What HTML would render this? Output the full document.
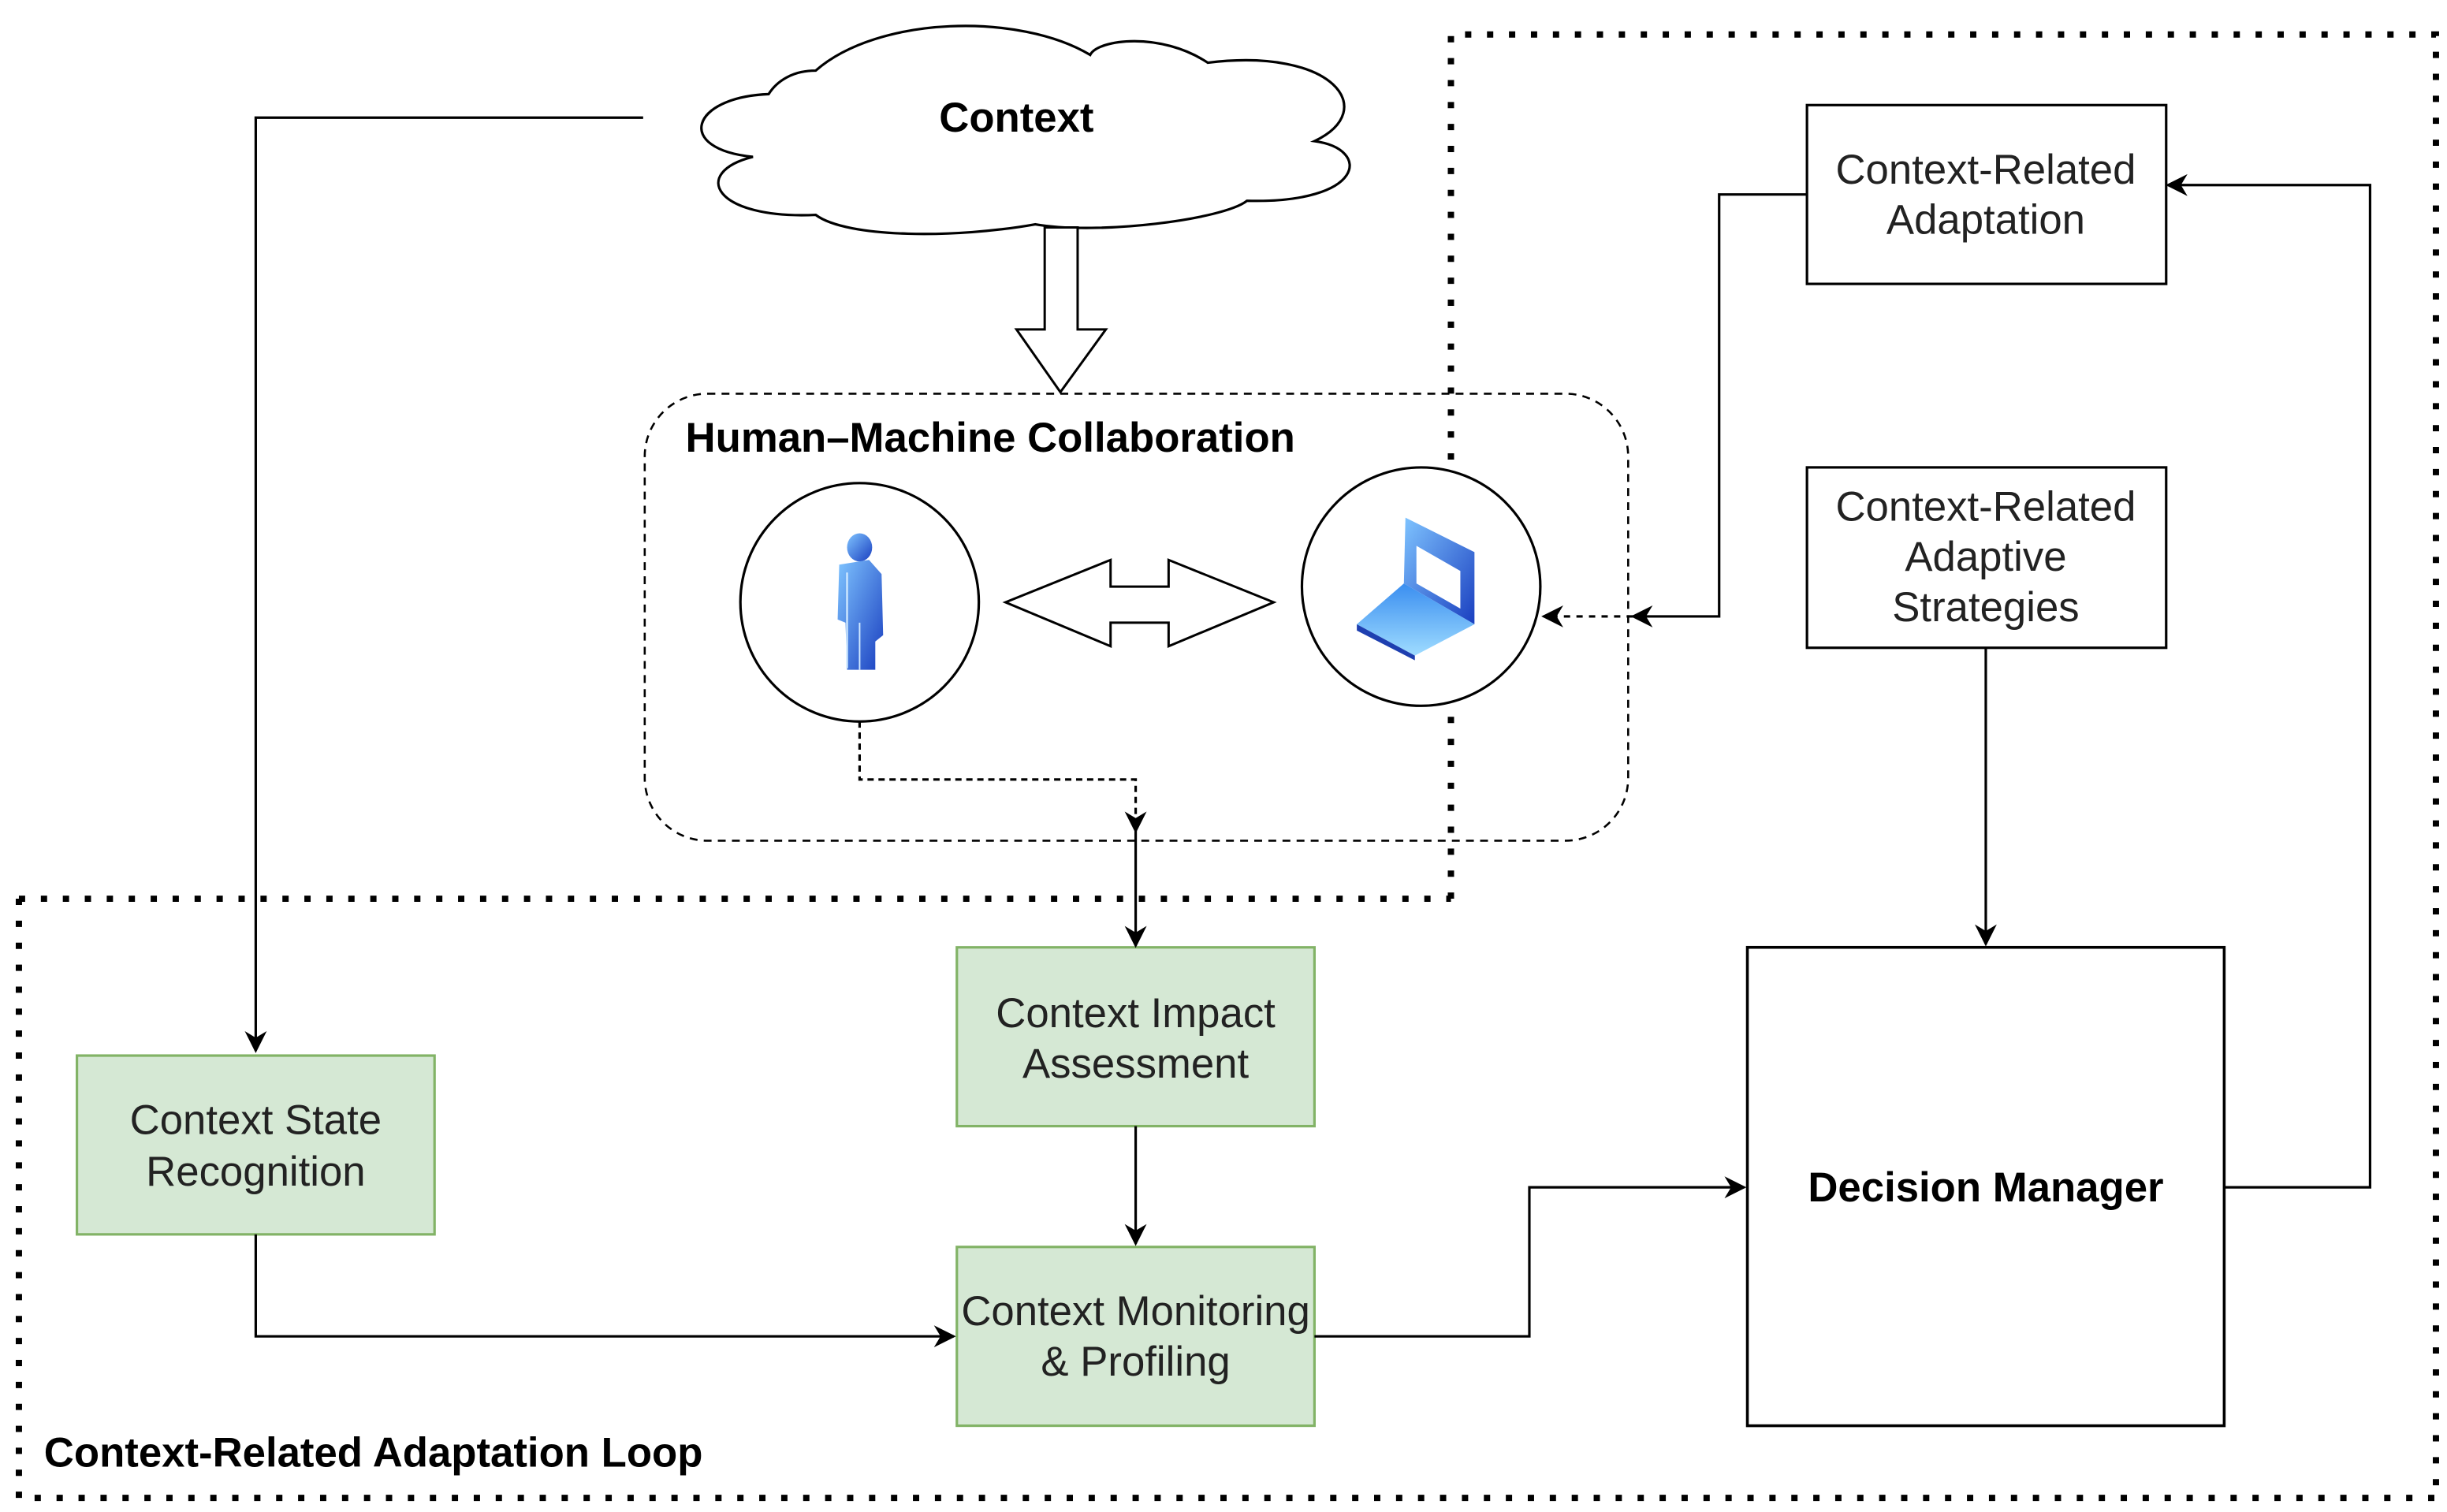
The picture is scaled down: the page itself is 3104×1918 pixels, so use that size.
<!DOCTYPE html>
<html><head><meta charset="utf-8"><style>
html,body{margin:0;padding:0;background:#fff;}
svg{display:block;}
text{font-family:"Liberation Sans",Arial,sans-serif;}
</style></head><body>
<svg width="3104" height="1918" viewBox="0 0 1560 964" xmlns="http://www.w3.org/2000/svg">
<defs>
<marker id="ah2" viewBox="0 0 10 10" refX="9" refY="5" markerWidth="14" markerHeight="14" orient="auto" markerUnits="userSpaceOnUse">
<path d="M0,0 L10,5 L0,10 L3,5 Z" fill="#000"/>
</marker>
<linearGradient id="bl" x1="0" y1="0" x2="1" y2="1">
<stop offset="0" stop-color="#7fc4ff"/><stop offset="1" stop-color="#1a3fc0"/>
</linearGradient>
<linearGradient id="bl2" x1="0" y1="0" x2="0" y2="1">
<stop offset="0" stop-color="#3a8ef0"/><stop offset="1" stop-color="#9fdcff"/>
</linearGradient>
</defs>

<g fill="none" stroke="#000" stroke-width="4" stroke-dasharray="4 10">
<path d="M925,573 L925,22 L1553,22 L1553,955"/>
<path d="M12,573 L925,573"/>
<path d="M12,573 L12,955 L1553,955"/>
</g>

<path d="M490,60 C440,62 430,95 480,100 C440,110 455,140 520,137 C540,152 610,152 660,143 C700,150 780,140 795,128 C870,130 875,95 838,90 C880,70 850,30 770,40 C740,20 700,25 695,35 C650,8 560,10 520,45 C505,45 495,52 490,60 Z" fill="#fff" stroke="#000" stroke-width="1.6"/>
<text x="648" y="84" font-size="26.5" font-weight="bold" text-anchor="middle">Context</text>

<path d="M666,145 L666,210 L648,210 L676,250 L705,210 L687,210 L687,145 Z" fill="#fff" stroke="#000" stroke-width="1.5"/>

<rect x="411" y="251" width="627" height="285" rx="40" fill="none" stroke="#000" stroke-width="1.3" stroke-dasharray="5 4"/>
<text x="437" y="288" font-size="26.5" font-weight="bold">Human–Machine Collaboration</text>

<circle cx="548" cy="384" r="76" fill="#fff" stroke="#000" stroke-width="1.6"/>
<circle cx="906" cy="374" r="76" fill="#fff" stroke="#000" stroke-width="1.6"/>

<g>
<ellipse cx="548" cy="349" rx="8" ry="9" fill="url(#bl)"/>
<path d="M535,360 L554,357 L562,366 L563,405 L558,409 L558,427 L540,427 L539,397 L534,395 Z" fill="url(#bl)"/>
<path d="M540,365 L540,426" stroke="#cfe8ff" stroke-width="1.2"/>
<path d="M548,397 L548,427" stroke="#cfe8ff" stroke-width="1"/>
</g>
<g>
<path d="M896,330 L940,352 L940,398 L895,372 Z" fill="url(#bl)"/>
<path d="M903,348 L931,364 L931,388 L903,372 Z" fill="#fff"/>
<path d="M895,372 L940,398 L902,418 L865,398 Z" fill="url(#bl2)"/>
<path d="M865,398 L902,418 L902,421 L865,402 Z" fill="#1e3fb0"/>
</g>

<path d="M641,384 L708,357 L708,374 L745,374 L745,357 L812,384 L745,412 L745,397 L708,397 L708,412 Z" fill="#fff" stroke="#000" stroke-width="1.5"/>

<rect x="1152" y="67" width="229" height="114" fill="#fff" stroke="#000" stroke-width="1.6"/>
<text font-size="26.5" text-anchor="middle" fill="#222"><tspan x="1266" y="117">Context-Related</tspan><tspan x="1266" y="149">Adaptation</tspan></text>
<rect x="1152" y="298" width="229" height="115" fill="#fff" stroke="#000" stroke-width="1.6"/>
<text font-size="26.5" text-anchor="middle" fill="#222"><tspan x="1266" y="332">Context-Related</tspan><tspan x="1266" y="364">Adaptive</tspan><tspan x="1266" y="396">Strategies</tspan></text>

<rect x="1114" y="604" width="304" height="305" fill="#fff" stroke="#000" stroke-width="1.8"/>
<text x="1266" y="766" font-size="26.5" font-weight="bold" text-anchor="middle">Decision Manager</text>

<g fill="#d5e8d4" stroke="#82b366" stroke-width="1.6">
<rect x="610" y="604" width="228" height="114"/>
<rect x="610" y="795" width="228" height="114"/>
<rect x="49" y="673" width="228" height="114"/>
</g>
<g font-size="26.5" text-anchor="middle" fill="#222">
<text><tspan x="724" y="655">Context Impact</tspan><tspan x="724" y="687">Assessment</tspan></text>
<text><tspan x="724" y="845">Context Monitoring</tspan><tspan x="724" y="877">&amp; Profiling</tspan></text>
<text><tspan x="163" y="723">Context State</tspan><tspan x="163" y="756">Recognition</tspan></text>
</g>
<text x="28" y="935" font-size="26.5" font-weight="bold">Context-Related Adaptation Loop</text>

<g fill="none" stroke="#000" stroke-width="1.6">
<path d="M410,75 L163,75 L163,670" marker-end="url(#ah2)"/>
<path d="M548,460 L548,497 L724,497 L724,530" stroke-dasharray="4 3" marker-end="url(#ah2)"/>
<path d="M724,530 L724,603" marker-end="url(#ah2)"/>
<path d="M724,718 L724,793" marker-end="url(#ah2)"/>
<path d="M163,787 L163,852 L608,852" marker-end="url(#ah2)"/>
<path d="M838,852 L975,852 L975,757 L1112,757" marker-end="url(#ah2)"/>
<path d="M1266,413 L1266,602" marker-end="url(#ah2)"/>
<path d="M1418,757 L1511,757 L1511,118 L1382,118" marker-end="url(#ah2)"/>
<path d="M1152,124 L1096,124 L1096,393 L1041,393" marker-end="url(#ah2)"/>
<path d="M1041,393 L984,393" stroke-dasharray="4 4" marker-end="url(#ah2)"/>
</g>
</svg>
</body></html>
